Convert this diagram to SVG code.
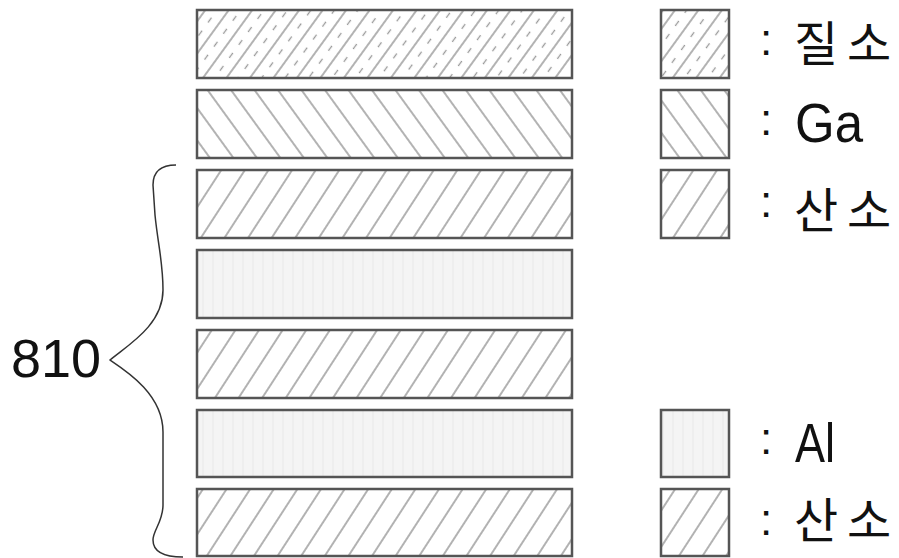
<svg xmlns="http://www.w3.org/2000/svg" width="899" height="558" viewBox="0 0 899 558">
<style>
.layer{stroke:#555;stroke-width:2.5}
.lat{font-family:"Liberation Sans",Arial,sans-serif;fill:#111}
.kor{font-family:"Noto Sans CJK KR","Noto Sans CJK SC",sans-serif;font-size:48px;fill:#111}
.col{font-family:"Liberation Sans",Arial,sans-serif;font-size:44px;fill:#111}
.brace{fill:none;stroke:#333;stroke-width:1.5}
</style>
<defs>
<pattern id="oxy" width="19.8" height="20" patternUnits="userSpaceOnUse" patternTransform="rotate(33)">
<rect width="19.8" height="20" fill="#fff"/>
<line x1="1" y1="0" x2="1" y2="20" stroke="#8a8a8a" stroke-width="1.3"/>
</pattern>
<pattern id="ga" width="19" height="20" patternUnits="userSpaceOnUse" patternTransform="rotate(-36)">
<rect width="19" height="20" fill="#fff"/>
<line x1="1" y1="0" x2="1" y2="20" stroke="#8a8a8a" stroke-width="1.3"/>
</pattern>
<pattern id="nit" width="19" height="16" patternUnits="userSpaceOnUse" patternTransform="rotate(36)">
<rect width="19" height="16" fill="#fff"/>
<line x1="1" y1="0" x2="1" y2="16" stroke="#8a8a8a" stroke-width="1.3"/>
<line x1="10.5" y1="2" x2="10.5" y2="8" stroke="#9a9a9a" stroke-width="1.3"/>
</pattern>
<pattern id="al" width="10" height="10" patternUnits="userSpaceOnUse">
<rect width="10" height="10" fill="#f4f4f4"/>
<line x1="3" y1="0" x2="3" y2="10" stroke="#e8e8e8" stroke-width="1"/>
</pattern>
</defs>
<rect width="899" height="558" fill="#fff"/>
<g id="stack">
<rect id="layer1" class="layer" x="197" y="10" width="375" height="68" fill="url(#nit)"/>
<rect id="layer2" class="layer" x="197" y="90" width="375" height="68" fill="url(#ga)"/>
<rect id="layer3" class="layer" x="197" y="170" width="375" height="68" fill="url(#oxy)"/>
<rect id="layer4" class="layer" x="197" y="250" width="375" height="68" fill="url(#al)"/>
<rect id="layer5" class="layer" x="197" y="330" width="375" height="68" fill="url(#oxy)"/>
<rect id="layer6" class="layer" x="197" y="410" width="375" height="67" fill="url(#al)"/>
<rect id="layer7" class="layer" x="197" y="489" width="375" height="67" fill="url(#oxy)"/>
</g>
<g id="brace810">
<path class="brace" d="M176,165 C161,165 153,172 153,185 L155,215 C158,245 163,262 163,290 C163,325 128,345 110,360 C128,372 163,395 163,432 L163,505 C163,522 153,530 153,540 C153,552 165,557 183,557"/>
<text class="lat" x="11" y="377" font-size="54">810</text>
</g>
<g id="legend-n">
<rect class="layer" x="661" y="10" width="68" height="68" fill="url(#nit)"/>
<text class="col" x="760" y="55">:</text>
<text class="kor" y="61"><tspan x="794">질</tspan><tspan x="847">소</tspan></text>
</g>
<g id="legend-ga">
<rect class="layer" x="661" y="90" width="68" height="68" fill="url(#ga)"/>
<text class="col" x="760" y="135">:</text>
<text class="lat" x="795" y="142" font-size="56" textLength="68" lengthAdjust="spacingAndGlyphs">Ga</text>
</g>
<g id="legend-o1">
<rect class="layer" x="661" y="170" width="68" height="68" fill="url(#oxy)"/>
<text class="col" x="760" y="217">:</text>
<text class="kor" y="228"><tspan x="794">산</tspan><tspan x="847">소</tspan></text>
</g>
<g id="legend-al">
<rect class="layer" x="661" y="410" width="68" height="67" fill="url(#al)"/>
<text class="col" x="760" y="454">:</text>
<text class="lat" x="795" y="462" font-size="56" textLength="40" lengthAdjust="spacingAndGlyphs">Al</text>
</g>
<g id="legend-o2">
<rect class="layer" x="661" y="489" width="68" height="67" fill="url(#oxy)"/>
<text class="col" x="760" y="535">:</text>
<text class="kor" y="538"><tspan x="794">산</tspan><tspan x="847">소</tspan></text>
</g>
<g id="connectors"></g>
</svg>
